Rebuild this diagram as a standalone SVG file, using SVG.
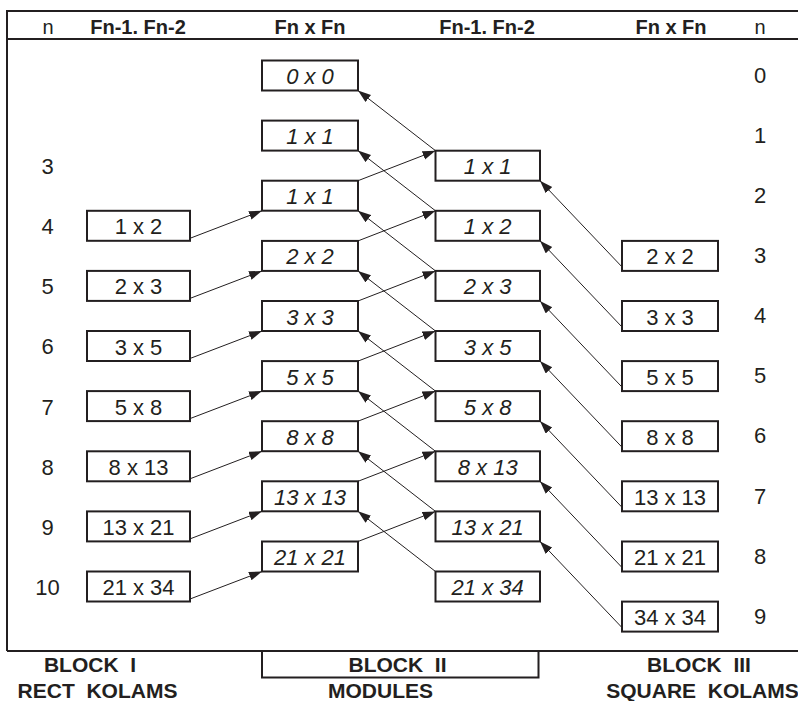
<svg xmlns="http://www.w3.org/2000/svg" width="798" height="701" viewBox="0 0 798 701">
  <style>
    text { font-family: "Liberation Sans", Arial, sans-serif; fill: #231f20; }
    .hd { font-size: 20px; font-weight: bold; text-anchor: middle; }
    .hn { font-size: 20px; text-anchor: middle; }
    .num { font-size: 22px; text-anchor: middle; }
    .lbl { font-size: 22px; text-anchor: middle; }
    .it { font-style: italic; }
    .blk { font-size: 21px; font-weight: bold; text-anchor: middle; }
    .box { fill: #fff; stroke: #231f20; stroke-width: 2; }
    .frame { fill: none; stroke: #231f20; stroke-width: 2; }
    .conn line { stroke: #231f20; stroke-width: 1; marker-end: url(#arr); }
  </style>
  <defs>
    <marker id="arr" markerUnits="userSpaceOnUse" markerWidth="14" markerHeight="10" refX="13" refY="4.5" orient="auto">
      <path d="M0,0 L13,4.5 L0,9 z" fill="#231f20"/>
    </marker>
  </defs>

  <rect width="798" height="701" fill="#fff"/>

  <!-- table frame -->
  <g id="frame">
    <path class="frame" d="M7,651 V11 H798"/>
    <line class="frame" x1="7" y1="39" x2="798" y2="39"/>
    <line class="frame" x1="7" y1="651" x2="798" y2="651"/>
    <path class="frame" d="M262,651 V677.5 H538.5 V651"/>
  </g>

  <!-- column headings -->
  <g id="headings">
    <text class="hn" x="48" y="34">n</text>
    <text class="hd" x="138" y="34">Fn-1. Fn-2</text>
    <text class="hd" x="310" y="34">Fn x Fn</text>
    <text class="hd" x="487" y="34">Fn-1. Fn-2</text>
    <text class="hd" x="671" y="34">Fn x Fn</text>
    <text class="hn" x="760" y="34">n</text>
  </g>

  <!-- index column, left -->
  <g id="n-left">
    <text class="num" x="47.5" y="174">3</text>
    <text class="num" x="47.5" y="234.1">4</text>
    <text class="num" x="47.5" y="294.2">5</text>
    <text class="num" x="47.5" y="354.4">6</text>
    <text class="num" x="47.5" y="414.5">7</text>
    <text class="num" x="47.5" y="474.6">8</text>
    <text class="num" x="47.5" y="534.7">9</text>
    <text class="num" x="47.5" y="594.8">10</text>
  </g>

  <!-- index column, right -->
  <g id="n-right">
    <text class="num" x="760" y="82.7">0</text>
    <text class="num" x="760" y="142.8">1</text>
    <text class="num" x="760" y="202.9">2</text>
    <text class="num" x="760" y="263.1">3</text>
    <text class="num" x="760" y="323.2">4</text>
    <text class="num" x="760" y="383.3">5</text>
    <text class="num" x="760" y="443.4">6</text>
    <text class="num" x="760" y="503.5">7</text>
    <text class="num" x="760" y="563.7">8</text>
    <text class="num" x="760" y="623.8">9</text>
  </g>

  <!-- connectors -->
  <g id="connectors" class="conn">
    <!-- rectangles to modules -->
    <line x1="190" y1="238.3" x2="262" y2="210.7"/>
    <line x1="190" y1="298.4" x2="262" y2="270.9"/>
    <line x1="190" y1="358.5" x2="262" y2="331.0"/>
    <line x1="190" y1="418.6" x2="262" y2="391.1"/>
    <line x1="190" y1="478.8" x2="262" y2="451.2"/>
    <line x1="190" y1="538.9" x2="262" y2="511.3"/>
    <line x1="190" y1="599.0" x2="262" y2="571.5"/>
    <!-- modules to rectangles -->
    <line x1="358" y1="180.7" x2="435.5" y2="150.7"/>
    <line x1="358" y1="240.9" x2="435.5" y2="210.8"/>
    <line x1="358" y1="301.0" x2="435.5" y2="270.9"/>
    <line x1="358" y1="361.1" x2="435.5" y2="331.0"/>
    <line x1="358" y1="421.2" x2="435.5" y2="391.1"/>
    <line x1="358" y1="481.3" x2="435.5" y2="451.3"/>
    <line x1="358" y1="541.5" x2="435.5" y2="511.4"/>
    <!-- rectangles back to modules -->
    <line x1="435.5" y1="150.7" x2="358" y2="90.5"/>
    <line x1="435.5" y1="210.8" x2="358" y2="150.6"/>
    <line x1="435.5" y1="270.9" x2="358" y2="210.7"/>
    <line x1="435.5" y1="331.0" x2="358" y2="270.9"/>
    <line x1="435.5" y1="391.1" x2="358" y2="331.0"/>
    <line x1="435.5" y1="451.3" x2="358" y2="391.1"/>
    <line x1="435.5" y1="511.4" x2="358" y2="451.2"/>
    <line x1="435.5" y1="571.5" x2="358" y2="511.3"/>
    <!-- squares to rectangles -->
    <line x1="622" y1="266.9" x2="540" y2="180.7"/>
    <line x1="622" y1="327.0" x2="540" y2="240.8"/>
    <line x1="622" y1="387.1" x2="540" y2="300.9"/>
    <line x1="622" y1="447.2" x2="540" y2="361.0"/>
    <line x1="622" y1="507.3" x2="540" y2="421.1"/>
    <line x1="622" y1="567.5" x2="540" y2="481.3"/>
    <line x1="622" y1="627.6" x2="540" y2="541.4"/>
  </g>

  <!-- block I: rectangular kolams -->
  <g id="r-1x2"><rect class="box" x="87" y="210.8" width="103" height="30"/><text class="lbl" x="138.5" y="234.3">1 x 2</text></g>
  <g id="r-2x3"><rect class="box" x="87" y="270.9" width="103" height="30"/><text class="lbl" x="138.5" y="294.4">2 x 3</text></g>
  <g id="r-3x5"><rect class="box" x="87" y="331.0" width="103" height="30"/><text class="lbl" x="138.5" y="354.5">3 x 5</text></g>
  <g id="r-5x8"><rect class="box" x="87" y="391.1" width="103" height="30"/><text class="lbl" x="138.5" y="414.6">5 x 8</text></g>
  <g id="r-8x13"><rect class="box" x="87" y="451.3" width="103" height="30"/><text class="lbl" x="138.5" y="474.8">8 x 13</text></g>
  <g id="r-13x21"><rect class="box" x="87" y="511.4" width="103" height="30"/><text class="lbl" x="138.5" y="534.9">13 x 21</text></g>
  <g id="r-21x34"><rect class="box" x="87" y="571.5" width="103" height="30"/><text class="lbl" x="138.5" y="595">21 x 34</text></g>

  <!-- block II: modules, squares -->
  <g id="m-0x0"><rect class="box" x="262" y="60.5" width="96" height="30"/><text class="lbl it" x="310" y="84">0 x 0</text></g>
  <g id="m-1x1a"><rect class="box" x="262" y="120.6" width="96" height="30"/><text class="lbl it" x="310" y="144.1">1 x 1</text></g>
  <g id="m-1x1b"><rect class="box" x="262" y="180.7" width="96" height="30"/><text class="lbl it" x="310" y="204.2">1 x 1</text></g>
  <g id="m-2x2"><rect class="box" x="262" y="240.9" width="96" height="30"/><text class="lbl it" x="310" y="264.4">2 x 2</text></g>
  <g id="m-3x3"><rect class="box" x="262" y="301.0" width="96" height="30"/><text class="lbl it" x="310" y="324.5">3 x 3</text></g>
  <g id="m-5x5"><rect class="box" x="262" y="361.1" width="96" height="30"/><text class="lbl it" x="310" y="384.6">5 x 5</text></g>
  <g id="m-8x8"><rect class="box" x="262" y="421.2" width="96" height="30"/><text class="lbl it" x="310" y="444.7">8 x 8</text></g>
  <g id="m-13x13"><rect class="box" x="262" y="481.3" width="96" height="30"/><text class="lbl it" x="310" y="504.8">13 x 13</text></g>
  <g id="m-21x21"><rect class="box" x="262" y="541.5" width="96" height="30"/><text class="lbl it" x="310" y="565">21 x 21</text></g>

  <!-- block II: modules, rectangles -->
  <g id="m-1x1"><rect class="box" x="435.5" y="150.7" width="104.5" height="30"/><text class="lbl it" x="487.7" y="174.2">1 x 1</text></g>
  <g id="m-1x2"><rect class="box" x="435.5" y="210.8" width="104.5" height="30"/><text class="lbl it" x="487.7" y="234.3">1 x 2</text></g>
  <g id="m-2x3"><rect class="box" x="435.5" y="270.9" width="104.5" height="30"/><text class="lbl it" x="487.7" y="294.4">2 x 3</text></g>
  <g id="m-3x5"><rect class="box" x="435.5" y="331.0" width="104.5" height="30"/><text class="lbl it" x="487.7" y="354.5">3 x 5</text></g>
  <g id="m-5x8"><rect class="box" x="435.5" y="391.1" width="104.5" height="30"/><text class="lbl it" x="487.7" y="414.6">5 x 8</text></g>
  <g id="m-8x13"><rect class="box" x="435.5" y="451.3" width="104.5" height="30"/><text class="lbl it" x="487.7" y="474.8">8 x 13</text></g>
  <g id="m-13x21"><rect class="box" x="435.5" y="511.4" width="104.5" height="30"/><text class="lbl it" x="487.7" y="534.9">13 x 21</text></g>
  <g id="m-21x34"><rect class="box" x="435.5" y="571.5" width="104.5" height="30"/><text class="lbl it" x="487.7" y="595">21 x 34</text></g>

  <!-- block III: square kolams -->
  <g id="s-2x2"><rect class="box" x="622" y="240.9" width="96" height="30"/><text class="lbl" x="670" y="264.4">2 x 2</text></g>
  <g id="s-3x3"><rect class="box" x="622" y="301.0" width="96" height="30"/><text class="lbl" x="670" y="324.5">3 x 3</text></g>
  <g id="s-5x5"><rect class="box" x="622" y="361.1" width="96" height="30"/><text class="lbl" x="670" y="384.6">5 x 5</text></g>
  <g id="s-8x8"><rect class="box" x="622" y="421.2" width="96" height="30"/><text class="lbl" x="670" y="444.7">8 x 8</text></g>
  <g id="s-13x13"><rect class="box" x="622" y="481.3" width="96" height="30"/><text class="lbl" x="670" y="504.8">13 x 13</text></g>
  <g id="s-21x21"><rect class="box" x="622" y="541.5" width="96" height="30"/><text class="lbl" x="670" y="565">21 x 21</text></g>
  <g id="s-34x34"><rect class="box" x="622" y="601.6" width="96" height="30"/><text class="lbl" x="670" y="625.1">34 x 34</text></g>

  <!-- block captions -->
  <g id="captions">
    <text class="blk" x="90" y="672" xml:space="preserve">BLOCK  I</text>
    <text class="blk" x="97.5" y="698" xml:space="preserve">RECT  KOLAMS</text>
    <text class="blk" x="397.5" y="672" xml:space="preserve">BLOCK  II</text>
    <text class="blk" x="380.5" y="698">MODULES</text>
    <text class="blk" x="699" y="672" xml:space="preserve">BLOCK  III</text>
    <text class="blk" x="702.5" y="698" xml:space="preserve">SQUARE  KOLAMS</text>
  </g>
</svg>
